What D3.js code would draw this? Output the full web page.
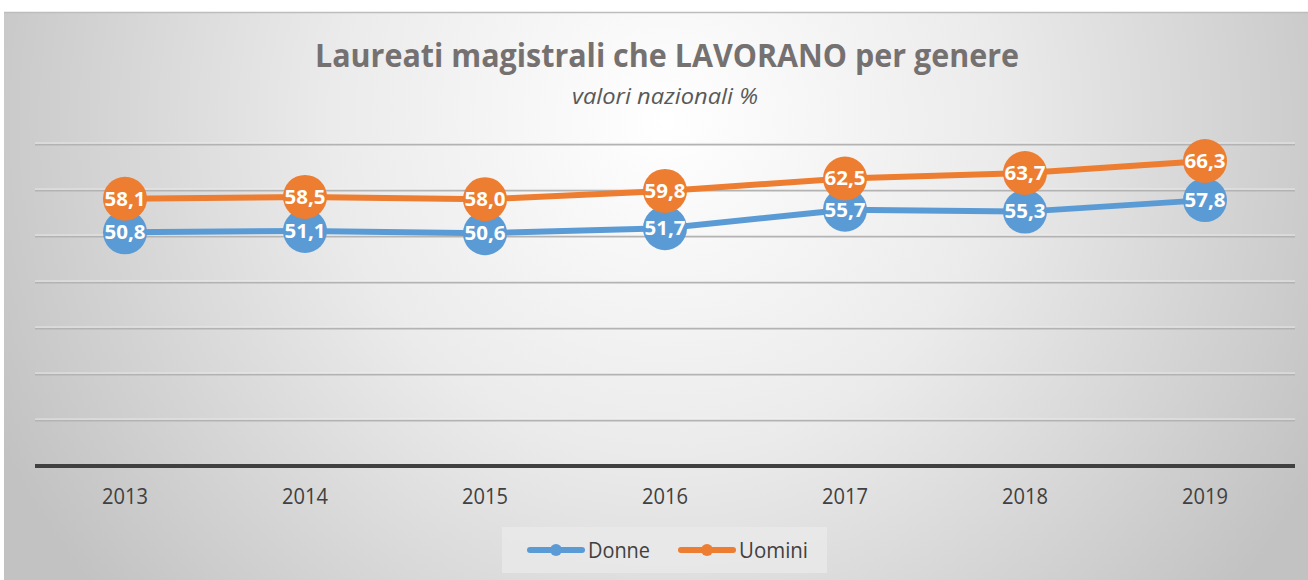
<!DOCTYPE html>
<html>
<head>
<meta charset="utf-8">
<script src="https://cdn.jsdelivr.net/npm/d3@7/dist/d3.min.js"></script>
<style>
  html, body { margin: 0; padding: 0; background: #ffffff; }
  svg { display: block; }
  text { font-family: "Open Sans", "Noto Sans", sans-serif; }
</style>
</head>
<body>
<svg id="chart" width="1308" height="580"></svg>
<script>
// ---- data ----
const years = ["2013", "2014", "2015", "2016", "2017", "2018", "2019"];
const donne = [50.8, 51.1, 50.6, 51.7, 55.7, 55.3, 57.8];
const uomini = [58.1, 58.5, 58.0, 59.8, 62.5, 63.7, 66.3];
const seriesNames = ["Donne", "Uomini"];
const yTicks = [0, 10, 20, 30, 40, 50, 60, 70];
const titleText = "Laureati magistrali che LAVORANO per genere";
const subtitleText = "valori nazionali %";

// ---- layout / style ----
const colors = { Donne: "#5B9BD5", Uomini: "#ED7D31" };
const svg = d3.select("#chart");
const W = 1308, H = 580;
const plot = { left: 35, right: 1295, top: 144, bottom: 466 };

// background gradient
const defs = svg.append("defs");
const grad = defs.append("radialGradient")
  .attr("id", "bg").attr("gradientUnits", "userSpaceOnUse")
  .attr("cx", 665).attr("cy", 120).attr("r", 740);
grad.append("stop").attr("offset", "0").attr("stop-color", "#ffffff");
grad.append("stop").attr("offset", "0.45").attr("stop-color", "#ebebeb");
grad.append("stop").attr("offset", "1").attr("stop-color", "#c2c2c2");

svg.append("rect").attr("x", 4).attr("y", 12).attr("width", W - 4).attr("height", H - 12)
  .attr("fill", "url(#bg)");
svg.append("line").attr("x1", 4).attr("x2", W).attr("y1", 12.5).attr("y2", 12.5)
  .attr("stroke", "#bdbdbd").attr("stroke-width", 1.5);

// scales
const x = d3.scaleBand().domain(years).range([plot.left, plot.right]).padding(0);
const y = d3.scaleLinear().domain([0, 70]).range([plot.bottom, plot.top]);
const cx = d => x(d) + x.bandwidth() / 2;

// gridlines
const grid = svg.append("g");
yTicks.filter(t => t > 0).forEach(t => {
  grid.append("line").attr("x1", plot.left).attr("x2", plot.right)
    .attr("y1", y(t) - 0.8).attr("y2", y(t) - 0.8)
    .attr("stroke", "#f4f4f4").attr("stroke-width", 1);
  grid.append("line").attr("x1", plot.left).attr("x2", plot.right)
    .attr("y1", y(t) + 0.6).attr("y2", y(t) + 0.6)
    .attr("stroke", "#b3b3b3").attr("stroke-width", 1.8);
});

// x axis
const xAxis = svg.append("g").attr("transform", `translate(0,${y(0)})`)
  .call(d3.axisBottom(x).tickSize(0).tickPadding(0));
xAxis.select(".domain").attr("stroke", "#404040").attr("stroke-width", 4)
  .attr("d", `M${plot.left},0H${plot.right}`);
xAxis.selectAll(".tick text")
  .attr("y", 38).attr("dy", 0)
  .attr("font-size", 22.5).attr("fill", "#404040")
  .attr("textLength", 46).attr("lengthAdjust", "spacingAndGlyphs")
  .style("font-family", "'Open Sans', sans-serif");

// series
const series = [
  { name: "Donne", values: donne },
  { name: "Uomini", values: uomini }
];
const line = d3.line().x((d, i) => cx(years[i])).y(d => y(d));

series.forEach(s => {
  const g = svg.append("g");
  g.append("path").datum(s.values).attr("d", line)
    .attr("fill", "none").attr("stroke", colors[s.name]).attr("stroke-width", 6)
    .attr("stroke-linejoin", "round").attr("stroke-linecap", "round");
  g.selectAll("circle").data(s.values).join("circle")
    .attr("cx", (d, i) => cx(years[i])).attr("cy", d => y(d)).attr("r", 22)
    .attr("fill", colors[s.name]);
});

// data labels
const fmt = v => v.toFixed(1).replace(".", ",");
series.forEach(s => {
  svg.append("g").selectAll("text").data(s.values).join("text")
    .attr("x", (d, i) => cx(years[i])).attr("y", d => y(d) + 6.8)
    .attr("text-anchor", "middle").attr("font-size", 19).attr("font-weight", 700)
    .attr("fill", "#ffffff")
    .attr("textLength", 41).attr("lengthAdjust", "spacingAndGlyphs")
    .text(d => fmt(d));
});

// title
svg.append("text").attr("x", 667).attr("y", 67).attr("text-anchor", "middle")
  .attr("font-size", 31.5).attr("font-weight", 700).attr("fill", "#767171")
  .attr("textLength", 704).attr("lengthAdjust", "spacingAndGlyphs")
  .text(titleText);
svg.append("text").attr("x", 665).attr("y", 104).attr("text-anchor", "middle")
  .attr("font-size", 22).attr("font-style", "italic").attr("fill", "#595959")
  .attr("textLength", 186).attr("lengthAdjust", "spacingAndGlyphs")
  .text(subtitleText);

// legend
const leg = svg.append("g");
leg.append("rect").attr("x", 502).attr("y", 527).attr("width", 325).attr("height", 46)
  .attr("fill", "#e9e9e9").attr("opacity", 0.85);
const legItems = [
  { name: "Donne", x0: 527, w: 62 },
  { name: "Uomini", x0: 678, w: 69 }
];
legItems.forEach(it => {
  leg.append("line").attr("x1", it.x0 + 3).attr("x2", it.x0 + 55).attr("y1", 550).attr("y2", 550)
    .attr("stroke", colors[it.name]).attr("stroke-width", 6).attr("stroke-linecap", "round");
  leg.append("circle").attr("cx", it.x0 + 29).attr("cy", 550).attr("r", 6)
    .attr("fill", colors[it.name]);
  leg.append("text").attr("x", it.x0 + 61).attr("y", 557.5)
    .attr("font-size", 22.5).attr("fill", "#404040")
    .attr("textLength", it.w).attr("lengthAdjust", "spacingAndGlyphs")
    .text(it.name);
});
</script>
</body>
</html>
